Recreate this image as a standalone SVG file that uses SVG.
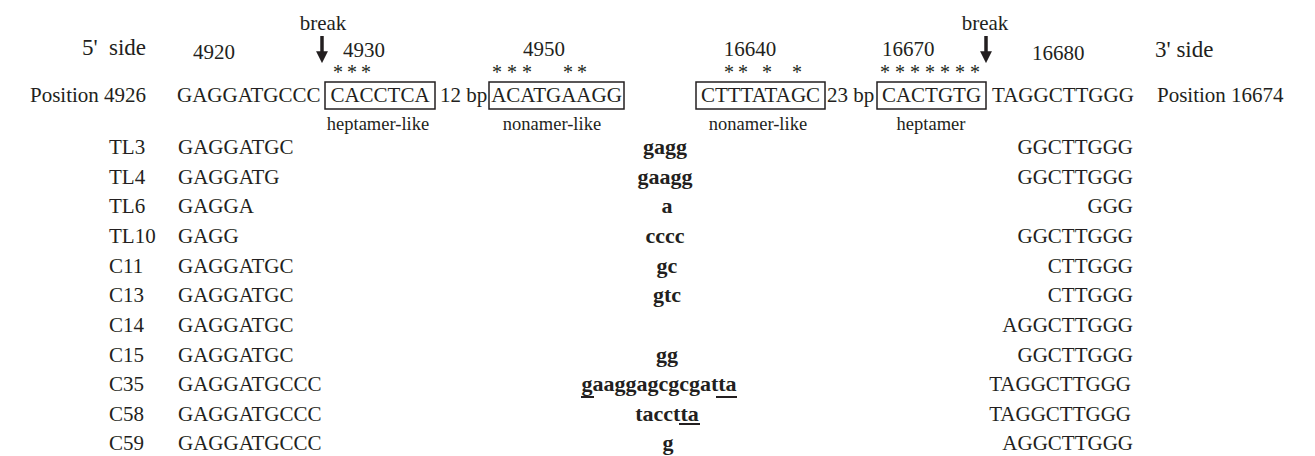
<svg xmlns="http://www.w3.org/2000/svg" width="1315" height="456" viewBox="0 0 1315 456">
<style>
text{font-family:"Liberation Serif","Times New Roman",serif;fill:#231f20}
.s{font-size:21px}
.h{font-size:21px}
.side{font-size:23px}
.l{font-size:18.5px;text-anchor:middle}
.b{font-size:22px;font-weight:bold;text-anchor:middle}
.m{text-anchor:middle}
.e{text-anchor:end}
.ast{font-size:20px;text-anchor:middle}
.box{fill:none;stroke:#231f20;stroke-width:1.5}
.ul{stroke:#231f20;stroke-width:2}
.arr{stroke:#231f20;stroke-width:3.5}
</style>
<defs>
<marker id="ah" markerWidth="3.4" markerHeight="3.4" refX="0.5" refY="1.7" orient="auto" markerUnits="strokeWidth"><path d="M0,0 L3.4,1.7 L0,3.4 z" fill="#231f20"/></marker>
</defs>
<rect width="1315" height="456" fill="#fff"/>
<g id="header">
<text class="side" x="82" y="55">5'<tspan x="109">side</tspan></text>
<text class="h" x="193" y="59">4920</text>
<text class="h m" x="323" y="30">break</text>
<text class="h" x="343" y="57">4930</text>
<text class="h m" x="544" y="56">4950</text>
<text class="h m" x="750" y="56">16640</text>
<text class="h" x="882" y="56">16670</text>
<text class="h m" x="985" y="30">break</text>
<text class="h" x="1032" y="60">16680</text>
<text class="side" x="1155" y="57">3' side</text>
<text class="ast" x="338 352 366" y="79">***</text>
<text class="ast" x="497 512 527 568 582" y="79">*****</text>
<text class="ast" x="729 743 767 797" y="79">****</text>
<text class="ast" x="885 900 915 930 945 960 975" y="79">*******</text>
</g>
<g id="connectors">
<line class="arr" x1="322" y1="36" x2="322" y2="53" marker-end="url(#ah)"/>
<line class="arr" x1="986" y1="36" x2="986" y2="53" marker-end="url(#ah)"/>
</g>
<g id="reference-row">
<text class="s" x="30" y="102">Position 4926</text>
<text class="s" x="177" y="102">GAGGATGCCC</text>
<rect class="box" x="325" y="82" width="110" height="27"/>
<text class="s m" x="380" y="102">CACCTCA</text>
<text class="s" x="440" y="102">12 bp</text>
<rect class="box" x="489" y="82" width="135" height="27"/>
<text class="s m" x="556.5" y="102">ACATGAAGG</text>
<rect class="box" x="696" y="82" width="129" height="27"/>
<text class="s m" x="760.5" y="102">CTTTATAGC</text>
<text class="s" x="827" y="102">23 bp</text>
<rect class="box" x="877" y="82" width="109" height="27"/>
<text class="s m" x="931.5" y="102">CACTGTG</text>
<text class="s" x="992" y="102">TAGGCTTGGG</text>
<text class="s" x="1157" y="102">Position 16674</text>
<text class="l" x="378" y="130">heptamer-like</text>
<text class="l" x="552" y="130">nonamer-like</text>
<text class="l" x="758" y="130">nonamer-like</text>
<text class="l" x="931" y="130">heptamer</text>
</g>
<g id="row-TL3"><text class="s" x="109" y="154">TL3</text><text class="s" x="178" y="154">GAGGATGC</text><text class="b" x="665" y="154">gagg</text><text class="s e" x="1133" y="154">GGCTTGGG</text></g>
<g id="row-TL4"><text class="s" x="109" y="184">TL4</text><text class="s" x="178" y="184">GAGGATG</text><text class="b" x="665" y="184">gaagg</text><text class="s e" x="1133" y="184">GGCTTGGG</text></g>
<g id="row-TL6"><text class="s" x="109" y="213">TL6</text><text class="s" x="178" y="213">GAGGA</text><text class="b" x="667" y="213">a</text><text class="s e" x="1133" y="213">GGG</text></g>
<g id="row-TL10"><text class="s" x="109" y="243">TL10</text><text class="s" x="178" y="243">GAGG</text><text class="b" x="665" y="243">cccc</text><text class="s e" x="1133" y="243">GGCTTGGG</text></g>
<g id="row-C11"><text class="s" x="109" y="273">C11</text><text class="s" x="178" y="273">GAGGATGC</text><text class="b" x="667" y="273">gc</text><text class="s e" x="1133" y="273">CTTGGG</text></g>
<g id="row-C13"><text class="s" x="109" y="302">C13</text><text class="s" x="178" y="302">GAGGATGC</text><text class="b" x="667" y="302">gtc</text><text class="s e" x="1133" y="302">CTTGGG</text></g>
<g id="row-C14"><text class="s" x="109" y="332">C14</text><text class="s" x="178" y="332">GAGGATGC</text><text class="s e" x="1133" y="332">AGGCTTGGG</text></g>
<g id="row-C15"><text class="s" x="109" y="362">C15</text><text class="s" x="178" y="362">GAGGATGC</text><text class="b" x="667" y="362">gg</text><text class="s e" x="1133" y="362">GGCTTGGG</text></g>
<g id="row-C35"><text class="s" x="109" y="391">C35</text><text class="s" x="178" y="391">GAGGATGCCC</text><text class="b" x="659" y="391">gaaggagcgcgatta</text><line class="ul" x1="581" y1="397" x2="594" y2="397"/><line class="ul" x1="716" y1="397" x2="737" y2="397"/><text class="s e" x="1131" y="391">TAGGCTTGGG</text></g>
<g id="row-C58"><text class="s" x="109" y="421">C58</text><text class="s" x="178" y="421">GAGGATGCCC</text><text class="b" x="667" y="421">tacctta</text><line class="ul" x1="679" y1="424" x2="700" y2="424"/><text class="s e" x="1131" y="421">TAGGCTTGGG</text></g>
<g id="row-C59"><text class="s" x="109" y="450">C59</text><text class="s" x="178" y="450">GAGGATGCCC</text><text class="b" x="668" y="450">g</text><text class="s e" x="1133" y="450">AGGCTTGGG</text></g>
</svg>
